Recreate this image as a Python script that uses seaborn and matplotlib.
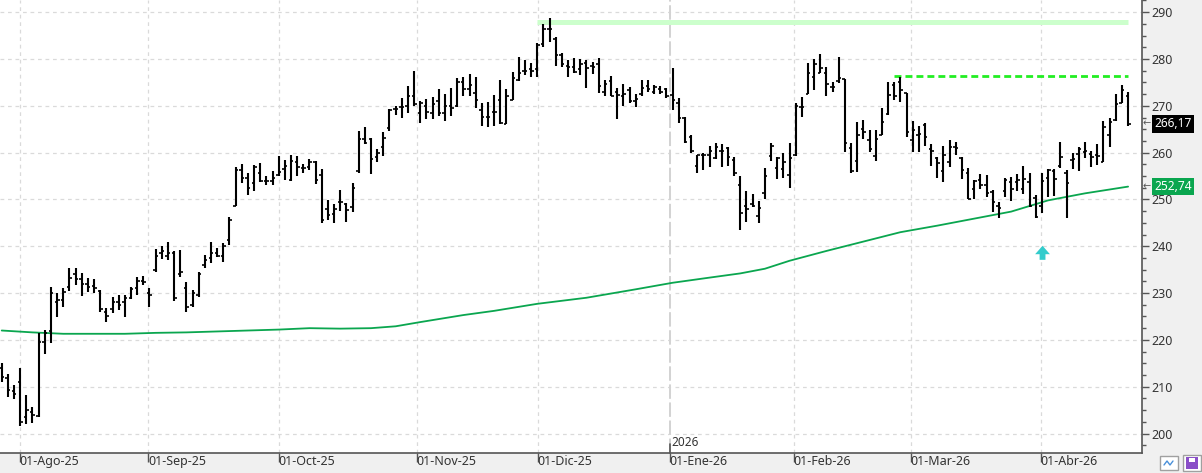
import numpy as np
import pandas as pd
import seaborn as sns
import matplotlib
matplotlib.use("Agg")
import matplotlib.pyplot as plt
import matplotlib.transforms as mtransforms
from matplotlib.patches import FancyArrow, Rectangle
from matplotlib.ticker import MultipleLocator

# daily OHLC, late Jul 2025 -> mid Apr 2026 (one entry per session)
highs = [215.1, 212.7, 210.4, 214.0, 208.2, 205.7, 221.5, 222.1, 231.3, 230.0,
         231.0, 235.3, 235.3, 234.3, 233.2, 233.0, 230.7, 226.8, 229.2, 229.6,
         229.6, 231.3, 233.4, 233.6, 231.0, 239.5, 240.0, 240.9, 239.0, 239.2,
         232.4, 230.7, 234.5, 238.1, 240.9, 239.7, 240.6, 246.3, 257.0, 257.6,
         255.7, 257.4, 257.7, 254.9, 256.0, 259.2, 258.4, 259.5, 259.3, 257.6,
         258.6, 258.2, 256.5, 249.9, 249.0, 252.0, 249.2, 253.5, 264.7, 265.5,
         263.2, 260.8, 264.4, 269.4, 270.0, 271.7, 274.3, 277.5, 271.0, 271.5,
         271.9, 273.6, 272.5, 273.8, 276.0, 276.2, 276.8, 276.2, 270.6, 270.8,
         272.3, 275.5, 273.6, 277.2, 280.4, 279.8, 279.2, 283.5, 287.5, 288.8,
         284.8, 281.3, 279.8, 280.2, 280.0, 279.8, 279.4, 280.2, 275.5, 276.4,
         273.8, 274.7, 274.0, 272.5, 275.5, 275.5, 274.5, 274.2, 273.8, 278.0,
         271.7, 267.6, 263.8, 259.5, 259.9, 261.4, 262.0, 261.8, 261.2, 259.0,
         255.0, 251.8, 251.2, 249.7, 256.7, 262.0, 259.0, 259.9, 262.0, 270.6,
         271.9, 279.2, 280.0, 281.1, 278.3, 275.1, 280.4, 275.7, 262.0, 266.6,
         267.0, 264.9, 264.9, 269.6, 275.1, 275.1, 276.2, 272.7, 266.8, 265.7,
         266.4, 261.8, 259.0, 261.5, 262.7, 262.3, 259.0, 256.7, 254.1, 255.4,
         255.2, 252.0, 249.4, 254.5, 254.8, 255.4, 257.2, 255.7, 251.0, 255.7,
         256.5, 256.5, 262.3, 256.3, 259.9, 261.2, 262.3, 260.4, 261.8, 266.8,
         267.4, 272.5, 274.5, 273.0]
lows = [211.0, 207.8, 207.4, 201.6, 202.0, 202.2, 203.5, 217.0, 219.3, 224.9,
        227.0, 230.5, 231.7, 229.4, 230.2, 230.0, 226.0, 223.8, 225.8, 226.4,
        224.9, 228.7, 229.6, 231.7, 227.0, 234.5, 237.2, 237.0, 228.2, 233.5,
        226.0, 227.0, 229.2, 235.3, 236.5, 237.8, 236.7, 240.3, 248.5, 253.6,
        251.0, 251.9, 253.8, 253.1, 253.1, 255.1, 254.2, 253.9, 255.0, 255.6,
        256.3, 253.2, 244.9, 245.6, 244.9, 247.5, 245.2, 247.3, 255.7, 261.9,
        255.5, 258.0, 259.3, 264.7, 268.1, 267.4, 268.5, 270.0, 266.3, 267.2,
        267.2, 267.8, 266.8, 267.8, 269.8, 272.0, 272.1, 269.6, 265.7, 265.4,
        265.7, 266.1, 266.1, 271.2, 275.3, 276.6, 276.2, 276.2, 282.6, 283.7,
        278.5, 278.2, 276.2, 277.0, 276.6, 273.8, 276.8, 272.8, 272.0, 272.0,
        267.2, 270.0, 270.6, 269.8, 272.2, 273.0, 272.5, 272.5, 271.7, 269.1,
        266.3, 262.0, 259.9, 255.7, 256.3, 256.9, 258.6, 256.9, 257.2, 255.0,
        243.5, 245.2, 248.4, 244.9, 250.0, 258.2, 254.4, 254.6, 252.4, 259.3,
        267.6, 272.5, 273.4, 277.0, 272.0, 273.0, 274.9, 260.2, 255.6, 255.9,
        263.0, 260.2, 258.2, 263.8, 268.0, 271.2, 270.8, 263.4, 260.2, 260.2,
        261.5, 257.2, 254.6, 253.8, 257.0, 259.5, 254.4, 250.0, 250.0, 252.2,
        250.5, 247.3, 246.0, 250.5, 249.7, 251.8, 251.2, 248.4, 246.0, 247.2,
        250.5, 250.7, 256.7, 246.0, 256.5, 256.1, 258.8, 256.9, 257.4, 258.0,
        261.2, 266.8, 270.6, 265.6]
opens = [214.0, 211.8, 209.0, 211.0, 203.5, 204.5, 203.8, 219.6, 221.8, 228.0,
         228.5, 231.2, 234.0, 233.0, 232.0, 231.5, 230.5, 226.0, 226.5, 228.0,
         228.0, 229.0, 231.0, 232.6, 230.0, 235.0, 238.5, 238.0, 238.5, 234.0,
         231.0, 227.5, 229.6, 236.0, 237.5, 238.5, 238.0, 241.3, 248.6, 256.2,
         254.5, 253.5, 255.6, 254.0, 254.0, 255.2, 256.6, 254.2, 258.0, 256.8,
         257.0, 257.9, 255.2, 248.0, 246.9, 249.5, 249.0, 248.3, 256.0, 263.0,
         262.9, 259.0, 261.3, 265.2, 269.3, 269.8, 270.0, 272.0, 268.5, 270.0,
         268.5, 271.0, 268.5, 270.0, 270.0, 275.0, 273.5, 272.7, 269.0, 267.6,
         268.6, 271.3, 266.2, 271.3, 275.5, 277.5, 277.8, 277.9, 283.2, 286.4,
         284.2, 280.9, 278.4, 278.2, 277.8, 279.2, 278.4, 279.0, 273.0, 275.2,
         273.0, 272.0, 273.4, 271.0, 272.5, 274.2, 273.0, 273.5, 273.5, 272.3,
         270.6, 267.5, 263.4, 257.2, 259.4, 259.5, 258.8, 260.4, 261.0, 258.4,
         253.1, 248.7, 249.0, 246.5, 251.4, 259.3, 256.7, 256.5, 255.2, 259.5,
         269.7, 272.5, 276.1, 277.1, 277.0, 274.0, 275.2, 275.7, 261.0, 258.2,
         265.0, 262.7, 259.3, 263.8, 268.2, 274.5, 275.0, 272.7, 262.7, 263.8,
         265.9, 260.7, 258.8, 256.0, 257.9, 261.3, 258.8, 255.7, 252.2, 254.2,
         253.0, 251.5, 248.5, 251.7, 253.8, 253.8, 252.2, 253.8, 250.2, 248.5,
         254.5, 256.0, 257.2, 255.7, 258.4, 259.7, 260.2, 259.7, 259.5, 258.1,
         263.8, 267.0, 270.6, 272.0]
closes = [212.0, 209.3, 208.5, 202.5, 205.0, 204.0, 219.5, 221.5, 230.0, 228.5,
          230.2, 233.2, 233.0, 232.0, 231.3, 231.0, 226.5, 225.0, 228.0, 227.5,
          229.0, 230.8, 232.5, 232.4, 229.5, 238.0, 239.0, 238.5, 229.0, 234.5,
          227.0, 230.0, 234.0, 237.0, 238.5, 238.0, 240.0, 245.6, 256.3, 254.5,
          252.4, 257.0, 254.0, 254.0, 254.5, 255.8, 257.2, 258.2, 257.0, 256.7,
          258.0, 254.2, 245.6, 246.6, 248.0, 249.5, 247.8, 252.4, 263.0, 262.0,
          258.6, 260.0, 263.2, 269.0, 269.3, 269.8, 272.0, 270.4, 270.5, 268.6,
          270.3, 268.4, 270.0, 269.5, 275.0, 273.5, 274.5, 271.3, 267.6, 267.6,
          268.6, 266.4, 272.0, 276.0, 277.0, 277.5, 277.5, 283.0, 286.4, 286.4,
          280.9, 278.9, 278.2, 277.3, 278.9, 278.0, 278.2, 274.2, 274.7, 272.0,
          272.3, 272.5, 271.0, 271.4, 273.8, 273.5, 274.0, 273.0, 272.0, 271.3,
          267.4, 262.3, 260.4, 259.4, 259.5, 260.4, 261.3, 260.4, 259.1, 255.6,
          247.0, 247.9, 248.6, 248.1, 255.0, 261.5, 258.9, 258.1, 258.8, 270.0,
          269.7, 277.0, 279.0, 278.0, 274.7, 274.0, 276.0, 262.0, 256.0, 263.8,
          264.3, 260.7, 263.0, 266.5, 272.3, 272.2, 273.4, 264.3, 264.9, 264.0,
          263.3, 260.4, 257.7, 259.4, 261.3, 261.0, 256.2, 250.0, 254.0, 253.1,
          251.3, 249.5, 248.1, 254.2, 252.2, 254.2, 254.3, 248.5, 246.2, 253.9,
          256.3, 254.3, 259.0, 253.6, 258.7, 260.7, 260.4, 259.1, 259.3, 265.4,
          266.5, 270.4, 273.4, 266.17]

# moving average, read at these session indices
ma_idx = [0, 5, 10, 15, 20, 25, 30, 35, 40, 45, 50, 55, 60, 64, 68, 75, 80, 87,
          95, 103, 109, 115, 120, 124, 128, 134, 140, 146, 152, 158, 164, 170, 176, 183]
ma_val = [222.0, 221.6, 221.3, 221.3, 221.3, 221.5, 221.6, 221.8, 222.0, 222.2,
          222.5, 222.4, 222.5, 222.9, 223.8, 225.3, 226.2, 227.7, 229.0, 230.8,
          232.2, 233.3, 234.2, 235.2, 236.9, 239.0, 241.0, 243.0, 244.4, 245.9,
          247.4, 249.8, 251.3, 252.74]

month_labels = ['01-Ago-25', '01-Sep-25', '01-Oct-25', '01-Nov-25', '01-Dic-25',
                '01-Ene-26', '01-Feb-26', '01-Mar-26', '01-Abr-26']
month_pos = [2.9, 23.8, 45.0, 67.4, 87.05, 108.5, 128.7, 147.7, 168.8]
year_pos = 108.5

# resistance levels: (level, first session, last session)
peak_level, peak_from, peak_to = 288.0, 87, 183
neck_level, neck_from, neck_to = 276.3, 145, 183
signal_idx, signal_low, signal_high = 169.1, 237.1, 240.1

sns.set_theme(style="white")
plt.rcParams['font.family'] = ['Noto Sans', 'DejaVu Sans']

fig = plt.figure(figsize=(12.02, 4.73), dpi=100, facecolor='#f0f0f0')
ax = fig.add_axes([0, 20.3 / 473, 1142 / 1202, 452.7 / 473])
ax.set_facecolor('white')

x = np.arange(len(closes))
ax.set_xlim(-0.28, 185.26)
ax.set_ylim(195.9, 292.6)

# grid
ax.set_xticks(month_pos)
ax.set_xticklabels(month_labels, ha='left')
ax.yaxis.tick_right()
ax.set_yticks(np.arange(200, 291, 10))
ax.yaxis.set_minor_locator(MultipleLocator(2.5))
ax.grid(True, which='major', color='#dadada', ls=(0, (3, 3)), lw=0.9)
ax.axvline(year_pos, color='white', lw=2, zorder=0.9)
ax.axvline(year_pos, color='#cfcfcf', lw=1.3, ls=(0, (8, 2)), zorder=1)

# highlight lines
ax.hlines(peak_level, peak_from, peak_to, color='#ccffcc', lw=3.6, zorder=1.5)
ax.hlines(neck_level, neck_from, neck_to, color='#22ee22', lw=2.0,
          linestyles=(0, (2.5, 1.45)), zorder=1.5)

# moving average
df_ma = pd.DataFrame({'idx': ma_idx, 'ma': ma_val})
sns.lineplot(data=df_ma, x='idx', y='ma', color='#0aa64f', lw=1.3, ax=ax, zorder=2)

# OHLC bars
ax.vlines(x, lows, highs, color='black', lw=1.5, zorder=3)
ax.hlines(opens, x - 0.4, x, color='black', lw=1.2, zorder=3)
ax.hlines(closes, x, x + 0.4, color='black', lw=1.2, zorder=3)

# signal arrow
ax.add_patch(FancyArrow(signal_idx, signal_low, 0, signal_high - signal_low,
                        width=0.95, head_width=2.4, head_length=1.8,
                        length_includes_head=True, color='#33cccc', lw=0, zorder=4))

ax.set_xlabel('')
ax.set_ylabel('')
for side in ['left', 'top']:
    ax.spines[side].set_visible(False)
for side in ['right', 'bottom']:
    ax.spines[side].set_color('#555555')
    ax.spines[side].set_linewidth(1.2)

ax.tick_params(axis='y', which='major', right=True, length=5, width=1, color='#555555',
               labelsize=9, labelcolor='#333333', pad=2)
ax.tick_params(axis='y', which='minor', right=True, length=2.8, width=1, color='#555555')
ax.tick_params(axis='x', which='major', bottom=True, length=6.5, width=1, color='#555555',
               labelsize=9, labelcolor='#333333', pad=-5)

# year marker
tr = mtransforms.blended_transform_factory(ax.transData, ax.transAxes)
ax.plot([year_pos, year_pos], [0, 0.02], transform=tr, color='#555555', lw=1.2, clip_on=False)
ax.text(year_pos + 0.3, 0.008, '2026', transform=tr, fontsize=8.5, color='#333333',
        ha='left', va='bottom')

# last value labels on the price axis
ty = mtransforms.blended_transform_factory(ax.transAxes, ax.transData)
for val, box in [(closes[-1], 'black'), (ma_val[-1], '#0aa64f')]:
    txt = f'{val:.2f}'.replace('.', ',')
    ax.annotate(txt, xy=(1.0, val), xycoords=ty, xytext=(12, 0), textcoords='offset pixels',
                ha='left', va='center', fontsize=8.6, color='white', zorder=6,
                annotation_clip=False,
                bbox=dict(boxstyle='square,pad=0.2', fc=box, ec='none'))
    ax.annotate('←', xy=(1.0, val), xycoords=ty, xytext=(1, 0), textcoords='offset pixels',
                ha='left', va='center', fontsize=7, color='#555555', annotation_clip=False,
                family=['DejaVu Sans'])

# corner buttons
fig.patches.append(Rectangle((1160 / 1202, 3 / 473), 18 / 1202, 14 / 473, transform=fig.transFigure,
                             fc='white', ec='#a0a0a0', lw=1))
fig.lines.append(plt.Line2D([1164 / 1202, 1167 / 1202, 1170 / 1202, 1173 / 1202],
                            [8 / 473, 12 / 473, 8 / 473, 12 / 473],
                            transform=fig.transFigure, color='#4a90d9', lw=1))
fig.patches.append(Rectangle((1183 / 1202, 2 / 473), 18 / 1202, 16 / 473, transform=fig.transFigure,
                             fc='white', ec='#a0a0a0', lw=1))
fig.patches.append(Rectangle((1186 / 1202, 4 / 473), 12 / 1202, 12 / 473, transform=fig.transFigure,
                             fc='#8a4fc8', ec='none'))
fig.patches.append(Rectangle((1189 / 1202, 11 / 473), 6 / 1202, 4 / 473, transform=fig.transFigure,
                             fc='white', ec='none'))

fig.savefig('out.png', dpi=100, facecolor=fig.get_facecolor())
